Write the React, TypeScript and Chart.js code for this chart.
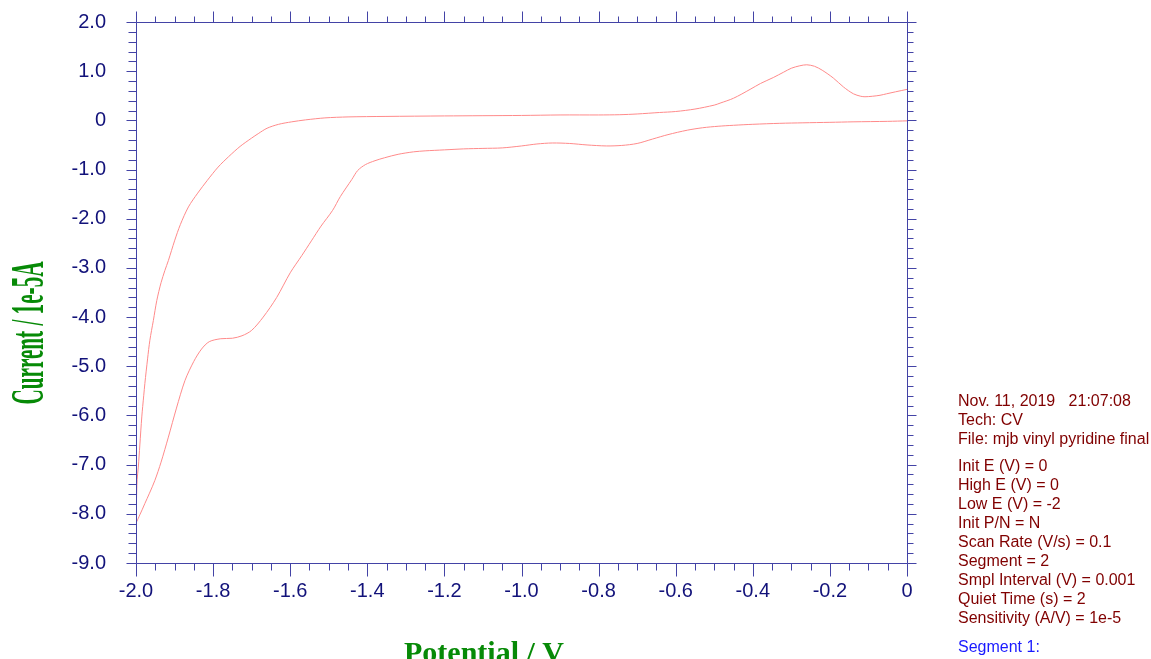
import React, { useEffect, useRef } from "react";
import { Chart, registerables } from "chart.js";

Chart.register(...registerables);

// Forward scan (0 V -> -2 V), potential in V and current in 1e-5 A
const forwardE = [0, -0.05, -0.14, -0.2, -0.27, -0.33, -0.4, -0.45, -0.49, -0.53, -0.57, -0.62, -0.66, -0.7, -0.74, -0.78, -0.83, -0.875, -0.92, -0.96, -1.0, -1.05, -1.1, -1.15, -1.2, -1.25, -1.28, -1.32, -1.355, -1.38, -1.405, -1.425, -1.44, -1.47, -1.49, -1.52, -1.545, -1.57, -1.6, -1.635, -1.67, -1.7, -1.725, -1.75, -1.78, -1.81, -1.83, -1.85, -1.873, -1.895, -1.916, -1.935, -1.951, -1.965, -1.977, -1.99, -2.0];
const forwardI = [-0.01, -0.02, -0.03, -0.04, -0.05, -0.06, -0.08, -0.1, -0.12, -0.15, -0.2, -0.29, -0.38, -0.47, -0.51, -0.52, -0.5, -0.47, -0.46, -0.48, -0.52, -0.56, -0.57, -0.58, -0.6, -0.62, -0.64, -0.69, -0.76, -0.82, -0.9, -1.02, -1.2, -1.55, -1.83, -2.15, -2.45, -2.75, -3.1, -3.6, -4.0, -4.27, -4.38, -4.43, -4.44, -4.5, -4.65, -4.9, -5.29, -5.85, -6.44, -6.95, -7.32, -7.58, -7.79, -8.02, -8.17];

// Reverse scan (-2 V -> 0 V)
const reverseE = [-2.0, -1.999, -1.997, -1.994, -1.99, -1.985, -1.98, -1.977, -1.97, -1.964, -1.955, -1.946, -1.935, -1.925, -1.916, -1.9, -1.885, -1.864, -1.84, -1.815, -1.787, -1.76, -1.73, -1.7, -1.683, -1.66, -1.63, -1.596, -1.56, -1.51, -1.45, -1.354, -1.2, -1.0, -0.9, -0.8, -0.745, -0.7, -0.642, -0.6, -0.55, -0.5, -0.485, -0.45, -0.407, -0.38, -0.347, -0.32, -0.3, -0.278, -0.26, -0.24, -0.22, -0.191, -0.165, -0.139, -0.12, -0.109, -0.09, -0.07, -0.053, -0.03, 0];
const reverseI = [-8.17, -7.8, -7.3, -7.05, -6.6, -6.03, -5.6, -5.35, -4.85, -4.47, -4.07, -3.66, -3.3, -3.05, -2.85, -2.45, -2.12, -1.76, -1.48, -1.22, -0.95, -0.74, -0.53, -0.36, -0.27, -0.16, -0.08, -0.03, 0.01, 0.05, 0.07, 0.08, 0.09, 0.1, 0.11, 0.11, 0.115, 0.13, 0.16, 0.18, 0.23, 0.31, 0.35, 0.45, 0.63, 0.75, 0.87, 0.98, 1.06, 1.11, 1.13, 1.1, 1.02, 0.86, 0.68, 0.54, 0.49, 0.48, 0.49, 0.51, 0.54, 0.58, 0.63];

const xMin = -2.0;
const xMax = 0;
const xLabelStep = 0.2;
const xMinorStep = 0.05;
const yMin = -9.0;
const yMax = 2.0;
const yLabelStep = 1.0;
const yMinorStep = 0.2;

const xTitle = "Potential / V";
const yTitle = "Current / 1e-5A";

const infoGroup1 = ["Nov. 11, 2019   21:07:08", "Tech: CV", "File: mjb vinyl pyridine final"];
const infoGroup2 = [
  "Init E (V) = 0",
  "High E (V) = 0",
  "Low E (V) = -2",
  "Init P/N = N",
  "Scan Rate (V/s) = 0.1",
  "Segment = 2",
  "Smpl Interval (V) = 0.001",
  "Quiet Time (s) = 2",
  "Sensitivity (A/V) = 1e-5",
];
const infoGroup3 = ["Segment 1:"];

const AXIS_COLOR = "#4343a6";
const LABEL_COLOR = "#12127a";
const TITLE_COLOR = "#078a07";
const CURVE_COLOR = "#ff8a8a";

const fmt = (v: number) => (Math.abs(v) < 1e-9 ? "0" : v.toFixed(1));

const framePlugin = {
  id: "cvFrame",
  afterDraw(chart: any) {
    const { ctx, chartArea, scales } = chart;
    const { left, right, top, bottom } = chartArea;
    const x = scales.x;
    const y = scales.y;
    ctx.save();
    ctx.strokeStyle = AXIS_COLOR;
    ctx.lineWidth = 1;
    const L = Math.round(left) + 0.5;
    const R = Math.round(right) + 0.5;
    const T = Math.round(top) + 0.5;
    const B = Math.round(bottom) + 0.5;
    ctx.beginPath();
    ctx.rect(L, T, R - L, B - T);
    ctx.stroke();
    const nx = Math.round((xMax - xMin) / xMinorStep);
    const perX = Math.round(xLabelStep / xMinorStep);
    ctx.beginPath();
    for (let i = 0; i <= nx; i++) {
      const v = xMin + i * xMinorStep;
      const px = Math.round(x.getPixelForValue(v)) + 0.5;
      const major = i % perX === 0;
      ctx.moveTo(px, T);
      ctx.lineTo(px, T - (major ? 11 : 6));
      ctx.moveTo(px, B);
      ctx.lineTo(px, B + (major ? 13 : 7));
    }
    const ny = Math.round((yMax - yMin) / yMinorStep);
    const perY = Math.round(yLabelStep / yMinorStep);
    for (let i = 0; i <= ny; i++) {
      const v = yMin + i * yMinorStep;
      const py = Math.round(y.getPixelForValue(v)) + 0.5;
      const major = i % perY === 0;
      ctx.moveTo(L, py);
      ctx.lineTo(L - (major ? 10 : 8), py);
      ctx.moveTo(R, py);
      ctx.lineTo(R + (major ? 9 : 6), py);
    }
    ctx.stroke();

    // axis titles
    ctx.fillStyle = TITLE_COLOR;
    ctx.font = "bold 30px 'Liberation Serif', 'Times New Roman', serif";
    ctx.textAlign = "center";
    ctx.textBaseline = "alphabetic";
    ctx.fillText(xTitle, 484, 662);

    ctx.save();
    ctx.translate(43, 333);
    ctx.rotate(-Math.PI / 2);
    ctx.scale(0.46, 1);
    ctx.font = "bold 46px 'Liberation Serif', 'Times New Roman', serif";
    ctx.textAlign = "center";
    ctx.fillText(yTitle, 0, 0);
    ctx.restore();
    ctx.restore();
  },
};

export default function App() {
  const canvasRef = useRef<HTMLCanvasElement | null>(null);

  useEffect(() => {
    const canvas = canvasRef.current;
    if (!canvas) return;
    const forward = forwardE.map((e, i) => ({ x: e, y: forwardI[i] }));
    const reverse = reverseE.map((e, i) => ({ x: e, y: reverseI[i] }));
    const points = forward.concat(reverse.slice(1));
    const chart = new Chart(canvas, {
      type: "scatter",
      data: {
        datasets: [
          {
            data: points,
            showLine: true,
            borderColor: CURVE_COLOR,
            backgroundColor: CURVE_COLOR,
            borderWidth: 1,
            pointRadius: 0,
            tension: 0.3,
            fill: false,
          },
        ],
      },
      options: {
        animation: false,
        responsive: false,
        maintainAspectRatio: false,
        layout: { autoPadding: false, padding: { left: 0, right: 244, top: 22, bottom: 0 } },
        plugins: { legend: { display: false }, tooltip: { enabled: false } },
        scales: {
          x: {
            type: "linear",
            min: xMin,
            max: xMax,
            grid: { display: false, drawTicks: false },
            border: { display: false },
            ticks: {
              stepSize: xLabelStep,
              autoSkip: false,
              maxRotation: 0,
              padding: 16,
              color: LABEL_COLOR,
              font: { size: 20, family: "'Liberation Sans', Arial, sans-serif" },
              callback: (v: any) => fmt(Number(v)),
            },
            afterFit: (s: any) => {
              s.height = 96;
              s.paddingLeft = 0;
              s.paddingRight = 0;
              s.paddingTop = 0;
              s.paddingBottom = 0;
            },
          },
          y: {
            type: "linear",
            min: yMin,
            max: yMax,
            grid: { display: false, drawTicks: false },
            border: { display: false },
            ticks: {
              stepSize: yLabelStep,
              autoSkip: false,
              padding: 30,
              color: LABEL_COLOR,
              font: { size: 20, family: "'Liberation Sans', Arial, sans-serif" },
              callback: (v: any) => fmt(Number(v)),
            },
            afterFit: (s: any) => {
              s.width = 136;
              s.paddingLeft = 0;
              s.paddingRight = 0;
              s.paddingTop = 0;
              s.paddingBottom = 0;
            },
          },
        },
      },
      plugins: [framePlugin],
    });
    return () => chart.destroy();
  }, []);

  const lineStyle: React.CSSProperties = {
    height: 19,
    lineHeight: "19px",
    whiteSpace: "pre",
  };
  const infoBase: React.CSSProperties = {
    position: "absolute",
    left: 958,
    fontFamily: "'Liberation Sans', Arial, sans-serif",
    fontSize: 16,
    color: "#800000",
  };

  return (
    <div style={{ position: "fixed", left: 0, top: 0, width: 1151, height: 659, overflow: "hidden", background: "#fff" }}>
      <canvas ref={canvasRef} width={1151} height={659} style={{ position: "absolute", left: 0, top: 0, width: 1151, height: 659 }} />
      <div style={{ ...infoBase, top: 391 }}>
        {infoGroup1.map((t) => (
          <div key={t} style={lineStyle}>{t}</div>
        ))}
      </div>
      <div style={{ ...infoBase, top: 456 }}>
        {infoGroup2.map((t) => (
          <div key={t} style={lineStyle}>{t}</div>
        ))}
      </div>
      <div style={{ ...infoBase, top: 637, color: "#1a1aff" }}>
        {infoGroup3.map((t) => (
          <div key={t} style={lineStyle}>{t}</div>
        ))}
      </div>
    </div>
  );
}
